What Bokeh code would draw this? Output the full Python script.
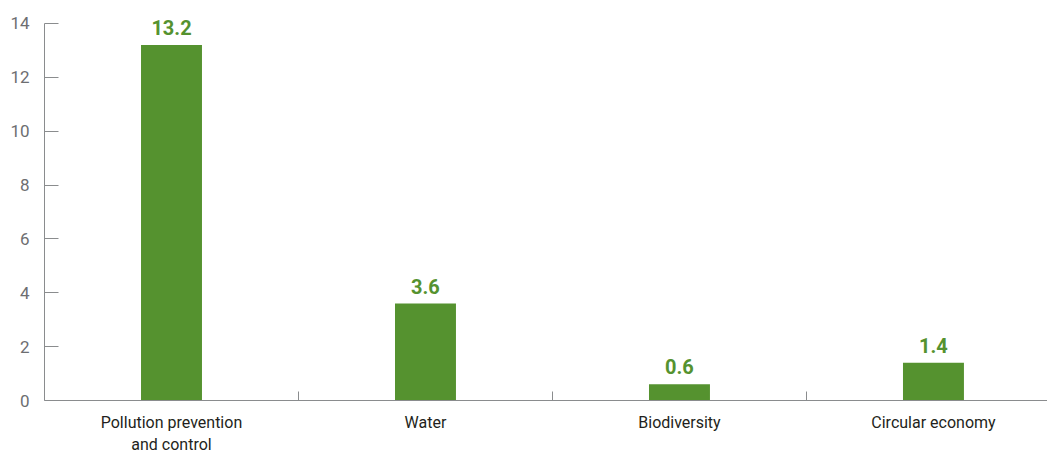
from bokeh.plotting import figure
from bokeh.models import Range1d, FixedTicker, ColumnDataSource, LabelSet
from bokeh.core.properties import value
from bokeh.embed import file_html
from bokeh.resources import INLINE

categories = ["Pollution prevention\nand control", "Water", "Biodiversity", "Circular economy"]
values = [13.2, 3.6, 0.6, 1.4]
value_labels = ["13.2", "3.6", "0.6", "1.4"]
y_ticks = [0, 2, 4, 6, 8, 10, 12, 14]

xs = list(range(len(categories)))
src = ColumnDataSource(dict(x=xs, top=values, lab=value_labels))

FONT = "Roboto"

p = figure(width=1047, height=457, output_backend="svg", toolbar_location=None,
           x_range=Range1d(-0.5, 3.449), y_range=Range1d(0, 14.63),
           min_border_left=44, min_border_right=0, min_border_top=6, min_border_bottom=56)
p.outline_line_color = None
p.grid.grid_line_color = None
p.background_fill_color = "white"

p.vbar(x="x", top="top", width=0.24, bottom=0, source=src, color="#55922f", line_color=None)

labels = LabelSet(x="x", y="top", text="lab", source=src, text_align="center",
                  text_baseline="alphabetic", y_offset=10, text_color="#55922f",
                  text_font=value(FONT), text_font_style="bold", text_font_size="20px")
p.add_layout(labels)

axis_col = "#8a8c8e"
p.yaxis.ticker = FixedTicker(ticks=y_ticks)
p.yaxis.bounds = (0, 14)
p.yaxis.axis_line_color = axis_col
p.yaxis.major_tick_line_color = axis_col
p.yaxis.major_tick_in = 14
p.yaxis.major_tick_out = 0
p.yaxis.minor_tick_line_color = None
p.yaxis.major_label_standoff = 15
p.yaxis.major_label_text_color = "#6d6e71"
p.yaxis.major_label_text_font = FONT
p.yaxis.major_label_text_font_size = "17px"

p.xaxis.ticker = FixedTicker(ticks=xs, minor_ticks=[0.5, 1.5, 2.5])
p.xaxis.major_label_overrides = {i: c for i, c in enumerate(categories)}
p.xaxis.axis_line_color = axis_col
p.xaxis.major_tick_line_color = None
p.xaxis.minor_tick_line_color = axis_col
p.xaxis.minor_tick_in = 9
p.xaxis.minor_tick_out = 0
p.xaxis.major_tick_in = 0
p.xaxis.major_tick_out = 0
p.xaxis.major_label_standoff = 12
p.xaxis.major_label_text_color = "#231f20"
p.xaxis.major_label_text_font = FONT
p.xaxis.major_label_text_font_size = "16px"

open("out.html", "w").write(file_html(p, INLINE))
